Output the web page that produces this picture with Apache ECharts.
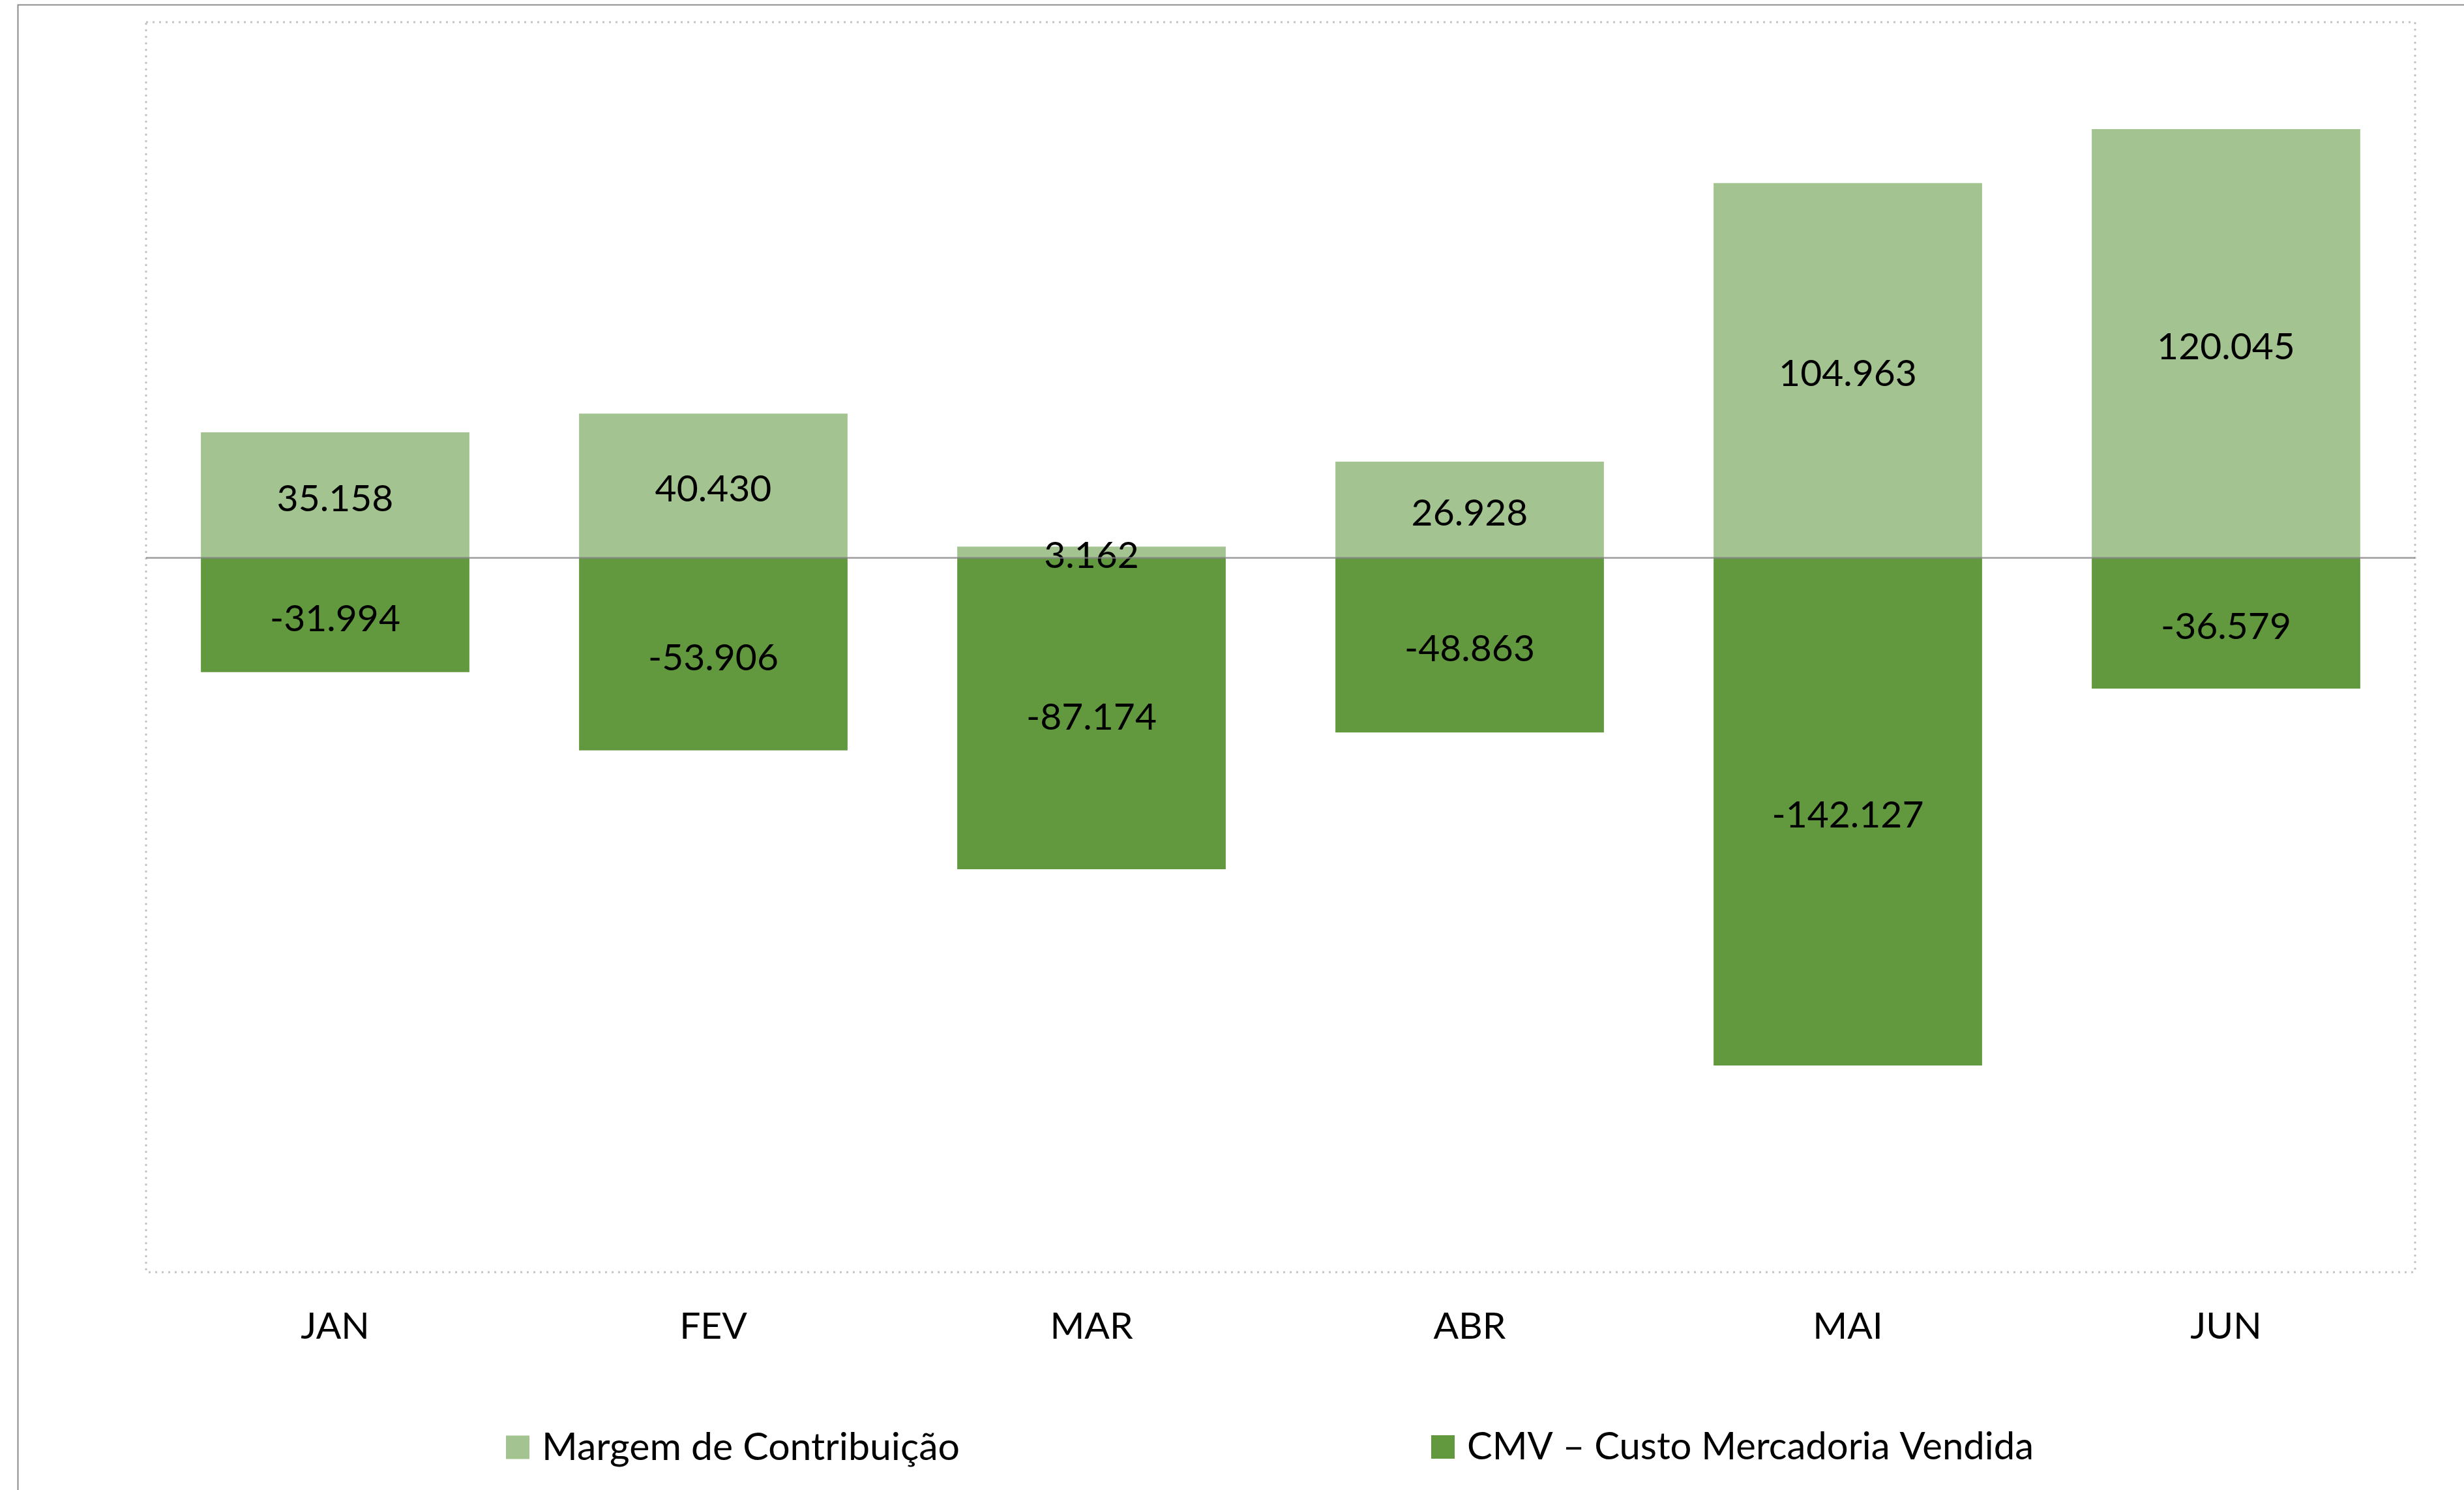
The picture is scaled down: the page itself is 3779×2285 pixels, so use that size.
<!DOCTYPE html>
<html>
<head>
<meta charset="utf-8">
<script src="https://cdn.jsdelivr.net/npm/echarts@6/dist/echarts.min.js"></script>
<style>
  html, body { margin: 0; padding: 0; background: #fff; }
  #chart { width: 3779px; height: 2285px; }
</style>
</head>
<body>
<div id="chart"></div>
<script>
// dados
const meses = ['JAN', 'FEV', 'MAR', 'ABR', 'MAI', 'JUN']
const margem = [35158, 40430, 3162, 26928, 104963, 120045]
const cmv = [-31994, -53906, -87174, -48863, -142127, -36579]
const nomes = ['Margem de Contribuição', 'CMV – Custo Mercadoria Vendida']

const fonte = 'Lato'

// 35158 -> "35.158"
function fmt(v) {
  let s = String(Math.abs(v)).replace(/\B(?=(\d{3})+(?!\d))/g, '.')
  return v < 0 ? '-' + s : s
}

let rotulo = {
  show: true,
  position: 'inside',
  offset: [0, 6],
  fontFamily: fonte,
  fontSize: 57,
  color: '#000',
  formatter: p => fmt(p.value)
}

let chart = echarts.init(document.getElementById('chart'))
let option = {
  backgroundColor: '#fff',
  animation: false,
  color: ['#A3C490', '#62993E'],
  graphic: [
    {
      type: 'rect',
      left: 25, top: 5,
      shape: { width: 4000, height: 3000 },
      style: { fill: 'none', stroke: '#8C8C8C', lineWidth: 2 },
      silent: true
    }
  ],
  grid: {
    left: 224,
    top: 34,
    right: 75,
    bottom: 334,
    show: true,
    borderColor: '#C4C4C4',
    borderWidth: 3,
    borderType: [3, 7]
  },
  legend: [
    {
      data: [nomes[0]],
      left: 776,
      top: 2190,
      padding: 0,
      icon: 'rect',
      itemWidth: 36,
      itemHeight: 36,
      textStyle: { fontFamily: fonte, fontSize: 59, color: '#000', padding: [0, 0, 0, 14] }
    },
    {
      data: [nomes[1]],
      left: 2195,
      top: 2190,
      padding: 0,
      icon: 'rect',
      itemWidth: 36,
      itemHeight: 36,
      textStyle: { fontFamily: fonte, fontSize: 58, color: '#000', padding: [0, 0, 0, 14] }
    }
  ],
  xAxis: {
    type: 'category',
    data: meses,
    axisLine: { show: false },
    axisTick: { show: false },
    axisLabel: { fontFamily: fonte, fontSize: 57, color: '#000', margin: 55 }
  },
  yAxis: {
    type: 'value',
    min: -200000,
    max: 150000,
    interval: 50000,
    show: false,
    splitLine: { show: false }
  },
  series: [
    {
      name: nomes[0],
      type: 'bar',
      stack: 'total',
      data: margem,
      barCategoryGap: '29%',
      label: rotulo,
      markLine: {
        silent: true,
        symbol: 'none',
        label: { show: false },
        lineStyle: { color: 'rgba(128,128,128,0.65)', width: 3, type: 'solid' },
        data: [{ yAxis: 0 }]
      }
    },
    {
      name: nomes[1],
      type: 'bar',
      stack: 'total',
      data: cmv,
      barCategoryGap: '29%',
      label: rotulo
    }
  ]
}
chart.setOption(option)
</script>
</body>
</html>
